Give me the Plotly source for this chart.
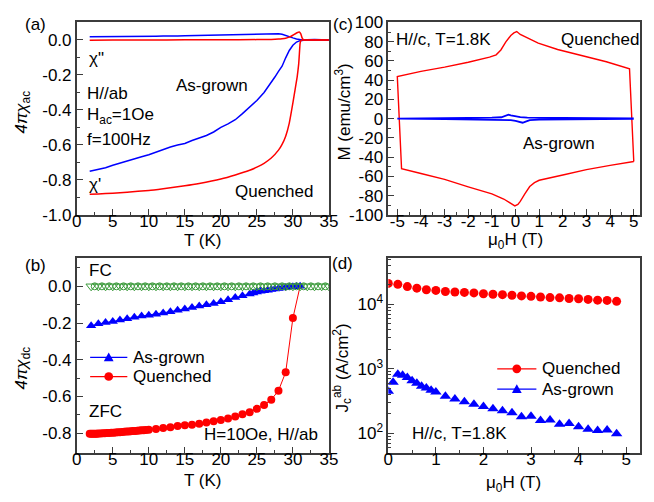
import plotly.graph_objects as go

# ---------------- Panel (a): ac susceptibility ----------------
T_ac_asgrown = [1.8, 3, 4, 5, 6, 7, 8, 9, 10, 11, 12, 13, 14, 15, 16, 17, 18, 19, 20, 21, 22, 23, 24, 25, 26,
                27, 27.5, 28, 28.5, 29, 29.5, 30, 30.5, 31, 31.5, 32, 33, 34, 35]
chi1_asgrown = [-0.750, -0.741, -0.730, -0.716, -0.705, -0.690, -0.680, -0.668, -0.656, -0.641, -0.630, -0.612,
                -0.601, -0.592, -0.575, -0.561, -0.546, -0.526, -0.500, -0.480, -0.456, -0.421, -0.386, -0.346,
                -0.300, -0.245, -0.212, -0.180, -0.150, -0.102, -0.060, -0.030, -0.012, -0.004, 0.000, 0.001,
                0.002, 0.000, 0.000]
chi2_asgrown = [0.018, 0.018, 0.019, 0.020, 0.019, 0.021, 0.020, 0.017, 0.020, 0.021, 0.022, 0.021, 0.023, 0.024,
                0.025, 0.026, 0.027, 0.028, 0.030, 0.029, 0.032, 0.030, 0.033, 0.034, 0.035, 0.037, 0.036,
                0.036, 0.033, 0.025, 0.018, 0.012, 0.006, 0.001, -0.002, 0.000, 0.002, 0.000, -0.001]

T_ac_quenched = [1.8, 3, 5, 7, 10, 12, 15, 17, 20, 22, 24, 25, 26, 27, 28, 28.5, 29, 29.5, 30, 30.3, 30.6,
                 30.8, 30.9, 31.0, 31.1, 31.3, 31.6, 32, 33, 34, 35]
chi1_quenched = [-0.882, -0.880, -0.876, -0.870, -0.860, -0.850, -0.833, -0.820, -0.795, -0.772, -0.745, -0.727,
                 -0.705, -0.675, -0.630, -0.597, -0.550, -0.475, -0.360, -0.285, -0.210, -0.140, -0.080, -0.020,
                 -0.004, 0.000, 0.000, 0.000, 0.000, 0.000, 0.000]
T_ac2_quenched = [1.8, 5, 10, 15, 20, 25, 27, 28, 28.5, 29, 29.5, 30, 30.5, 30.9, 31.1, 31.3, 31.5, 32, 33, 34, 35]
chi2_quenched = [-0.001, 0.000, 0.000, 0.001, 0.001, 0.002, 0.003, 0.005, 0.007, 0.010, 0.016, 0.027, 0.040,
                 0.046, 0.035, 0.010, 0.000, 0.000, 0.000, 0.000, 0.000]

# ---------------- Panel (c): M(H) loops ----------------
H_quenched = [5.0, 4.82, 3.84, 2.88, 1.78, 0.96, 0.5, 0.2, 0.05, -0.07, -0.2, -0.41, -0.62, -0.82, -1.1, -2.0,
              -3.0, -4.0, -5.0, -4.82, -4.0, -3.0, -2.0, -1.0, -0.5, -0.2, -0.03, 0.1, 0.2, 0.4, 0.6, 0.8, 1.0,
              2.0, 3.0, 4.0, 5.0]
M_quenched = [-44.5, 51.8, 59.2, 65.2, 71.9, 78.6, 83.5, 87.5, 90.6, 89.2, 86.5, 79.8, 71.4, 66.4, 64.0, 58.6,
              53.6, 49.2, 43.9, -52.0, -57.0, -63.0, -70.8, -78.2, -83.5, -87.5, -90.6, -89.0, -86.0, -78.0,
              -70.5, -66.5, -64.0, -58.5, -53.0, -48.5, -44.5]
H_asgrown = [5.0, 3.0, 2.0, 1.0, 0.5, 0.2, 0.0, -0.2, -0.3, -0.4, -0.6, -1.0, -2.0, -3.0, -5.0,
             -3.0, -2.0, -1.0, -0.5, -0.2, 0.0, 0.2, 0.3, 0.4, 0.6, 1.0, 2.0, 3.0, 5.0]
M_asgrown = [0.2, 0.4, 0.6, 0.9, 1.2, 1.6, 2.2, 3.5, 4.2, 3.2, 1.5, 1.0, 0.6, 0.4, 0.1,
             -0.4, -0.6, -0.9, -1.2, -1.6, -2.2, -3.8, -4.2, -3.3, -1.5, -1.0, -0.6, -0.4, -0.1]

# ---------------- Panel (b): dc susceptibility ----------------
T_fc_a = [2, 3, 4, 5, 6, 7, 8, 9, 10, 11, 12, 13, 14, 15, 16, 17, 18, 19, 20, 21, 22, 23, 24, 25, 26, 27, 28,
          29, 30, 31, 32, 33, 34, 35]
chi_fc_a = [0.000, 0.000, 0.000, 0.000, 0.000, 0.000, 0.000, 0.000, 0.000, 0.000, 0.000, 0.000, 0.000, 0.000,
            0.000, 0.000, 0.000, 0.000, 0.000, 0.000, 0.000, 0.000, 0.000, 0.000, 0.000, 0.000, 0.000, 0.000,
            0.000, 0.000, 0.000, 0.000, 0.000, 0.000]
T_fc_q = [2.5, 3.5, 4.5, 5.5, 6.5, 7.5, 8.5, 9.5, 10.5, 11.5, 12.5, 13.5, 14.5, 15.5, 16.5, 17.5, 18.5, 19.5,
          20.5, 21.5, 22.5, 23.5, 24.5, 25.5, 26.5, 27.5, 28.5, 29.5, 30.5, 31.5, 32.5, 33.5, 34.5]
chi_fc_q = [0.000, 0.000, 0.000, 0.000, 0.000, 0.000, 0.000, 0.000, 0.000, 0.000, 0.000, 0.000, 0.000, 0.000,
            0.000, 0.000, 0.000, 0.000, 0.000, 0.000, 0.000, 0.000, 0.000, 0.000, 0.000, 0.000, 0.000, 0.000,
            0.000, 0.000, 0.000, 0.000, 0.000]

T_zfc_asgrown = [2, 3, 4, 5, 6, 7, 8, 9, 10, 11, 12, 13, 14, 15, 16, 17, 18, 19, 20, 21, 22, 23, 24, 24.5, 25,
                 25.5, 26, 26.5, 27, 27.5, 28, 28.5, 29, 29.5, 30, 30.5, 31]
chi_zfc_asgrown = [-0.215, -0.204, -0.197, -0.192, -0.183, -0.176, -0.169, -0.162, -0.157, -0.152, -0.145,
                   -0.138, -0.131, -0.124, -0.115, -0.107, -0.101, -0.093, -0.084, -0.073, -0.061, -0.052,
                   -0.042, -0.036, -0.031, -0.027, -0.024, -0.021, -0.018, -0.015, -0.012, -0.009, -0.006,
                   -0.004, -0.002, -0.001, 0.000]

T_zfc_quenched = [1.8, 2.0, 2.2, 2.4, 2.6, 2.8, 3.0, 3.3, 3.6, 3.9, 4.2, 4.5, 4.8, 5.1, 5.4, 5.7, 6.0, 6.3, 6.6,
                  6.9, 7.2, 7.5, 7.8, 8.1, 8.4, 8.7, 9.0, 9.3, 9.6, 10.0, 11, 12, 13, 14, 15, 16, 17, 18, 19, 20,
                  21, 22, 23, 24, 25, 26, 27, 28, 29, 30, 31]
chi_zfc_quenched = [-0.803, -0.803, -0.803, -0.802, -0.802, -0.802, -0.801, -0.801, -0.800, -0.800, -0.799,
                    -0.798, -0.797, -0.797, -0.796, -0.795, -0.794, -0.793, -0.792, -0.791, -0.790, -0.789,
                    -0.788, -0.787, -0.786, -0.785, -0.784, -0.783, -0.782, -0.781, -0.777, -0.772, -0.767,
                    -0.760, -0.756, -0.753, -0.748, -0.742, -0.735, -0.728, -0.720, -0.709, -0.697, -0.685,
                    -0.667, -0.646, -0.617, -0.568, -0.468, -0.173, 0.000]

# ---------------- Panel (d): critical current density ----------------
H_jc = [0.0, 0.2, 0.4, 0.6, 0.8, 1.0, 1.2, 1.4, 1.6, 1.8, 2.0, 2.2, 2.4, 2.6, 2.8, 3.0, 3.2, 3.4, 3.6, 3.8, 4.0,
        4.2, 4.4, 4.6, 4.8]
Jc_quenched = [21100, 20400, 18800, 17800, 16800, 16400, 15800, 15500, 15300, 15000, 14600, 14300, 14100, 13800,
               13500, 13300, 13000, 12700, 12600, 12300, 12200, 11900, 11600, 11500, 11100]
H_jc_a = [0.0, 0.1, 0.2, 0.3, 0.4, 0.5, 0.6, 0.7, 0.8, 0.9, 1.0, 1.2, 1.4, 1.6, 1.8, 2.0, 2.2, 2.4, 2.6, 2.8, 3.0,
          3.2, 3.4, 3.6, 3.8, 4.0, 4.2, 4.4, 4.6, 4.8]
Jc_asgrown = [447, 617, 823, 794, 733, 653, 596, 537, 501, 462, 437, 376, 339, 309, 282, 260, 240, 224, 207, 180,
              184, 158, 160, 138, 141, 126, 115, 110, 112, 98]

# ---------------- tick labels ----------------
T_ticks = [0, 5, 10, 15, 20, 25, 30, 35]
T_ticktext = ["0", "5", "10", "15", "20", "25", "30", "35"]
chi_ac_ticks = [0.0, -0.2, -0.4, -0.6, -0.8, -1.0]
chi_ac_ticktext = ["0.0", "-0.2", "-0.4", "-0.6", "-0.8", "-1.0"]
chi_dc_ticks = [0.0, -0.2, -0.4, -0.6, -0.8]
chi_dc_ticktext = ["0.0", "-0.2", "-0.4", "-0.6", "-0.8"]
H_ticks = [-5, -4, -3, -2, -1, 0, 1, 2, 3, 4, 5]
H_ticktext = ["-5", "-4", "-3", "-2", "-1", "0", "1", "2", "3", "4", "5"]
M_ticks = [100, 80, 60, 40, 20, 0, -20, -40, -60, -80, -100]
M_ticktext = ["100", "80", "60", "40", "20", "0", "-20", "-40", "-60", "-80", "-100"]
Hd_ticks = [0, 1, 2, 3, 4, 5]
Hd_ticktext = ["0", "1", "2", "3", "4", "5"]
Jc_ticks = [100, 1000, 10000]
Jc_ticktext = ["10<sup>2</sup>", "10<sup>3</sup>", "10<sup>4</sup>"]

RED = "#ff0000"
BLUE = "#0000ff"
GREEN = "#3a9a3a"
FONT = "Liberation Sans, Arial, sans-serif"
AX = "#3c3c3c"

fig = go.Figure()

# (a)
fig.add_trace(go.Scatter(x=T_ac_asgrown, y=chi1_asgrown, mode="lines", line=dict(color=BLUE, width=1.5),
                         xaxis="x", yaxis="y", showlegend=False))
fig.add_trace(go.Scatter(x=T_ac_asgrown, y=chi2_asgrown, mode="lines", line=dict(color=BLUE, width=1.5),
                         xaxis="x", yaxis="y", showlegend=False))
fig.add_trace(go.Scatter(x=T_ac_quenched, y=chi1_quenched, mode="lines",
                         line=dict(color=RED, width=1.5, shape="spline", smoothing=0.4),
                         xaxis="x", yaxis="y", showlegend=False))
fig.add_trace(go.Scatter(x=T_ac2_quenched, y=chi2_quenched, mode="lines",
                         line=dict(color=RED, width=1.5, shape="spline", smoothing=0.4),
                         xaxis="x", yaxis="y", showlegend=False))

# (c)
fig.add_trace(go.Scatter(x=H_quenched, y=M_quenched, mode="lines", line=dict(color=RED, width=1.4),
                         xaxis="x2", yaxis="y2", showlegend=False))
fig.add_trace(go.Scatter(x=H_asgrown, y=M_asgrown, mode="lines", line=dict(color=BLUE, width=1.8),
                         xaxis="x2", yaxis="y2", showlegend=False))

# (b)
fig.add_trace(go.Scatter(x=T_zfc_asgrown, y=chi_zfc_asgrown, mode="lines+markers", name="As-grown",
                         line=dict(color=BLUE, width=1),
                         marker=dict(symbol="triangle-up", size=9, color=BLUE, opacity=1, line=dict(width=0)),
                         xaxis="x3", yaxis="y3", showlegend=False))
q_sizes = [8] * (len(T_zfc_quenched) - 1) + [0]
fig.add_trace(go.Scatter(x=T_zfc_quenched, y=chi_zfc_quenched, mode="lines+markers", name="Quenched",
                         line=dict(color=RED, width=1),
                         marker=dict(symbol="circle", size=q_sizes, color=RED, opacity=1, line=dict(width=0)),
                         xaxis="x3", yaxis="y3", showlegend=False))
fig.add_trace(go.Scatter(x=T_fc_a, y=chi_fc_a, mode="markers",
                         marker=dict(symbol="triangle-down-open", size=9, color=GREEN, line=dict(width=1)),
                         xaxis="x3", yaxis="y3", showlegend=False))
fig.add_trace(go.Scatter(x=T_fc_q, y=chi_fc_q, mode="markers",
                         marker=dict(symbol="circle-open", size=7, color=GREEN, line=dict(width=1)),
                         xaxis="x3", yaxis="y3", showlegend=False))

# (d)
fig.add_trace(go.Scatter(x=H_jc, y=Jc_quenched, mode="markers", name="Quenched",
                         marker=dict(symbol="circle", size=9, color=RED, opacity=1, line=dict(width=0)),
                         xaxis="x4", yaxis="y4", showlegend=False))
fig.add_trace(go.Scatter(x=H_jc_a, y=Jc_asgrown, mode="markers", name="As-grown",
                         marker=dict(symbol="triangle-up", size=10, color=BLUE, opacity=1, line=dict(width=0)),
                         xaxis="x4", yaxis="y4", showlegend=False))

W, Hh = 654, 502


def px(x):
    return x / W


def py(y):
    return 1 - y / Hh


def axis(domain, rng, tickvals, ticktext, minor_dtick, anchor, **kw):
    d = dict(domain=domain, range=rng, tickmode="array", tickvals=tickvals, ticktext=ticktext, anchor=anchor,
             showline=True, linecolor=AX, linewidth=1.6, mirror=True, ticks="inside", ticklen=6, tickwidth=1.3,
             tickcolor=AX, showgrid=False, zeroline=False,
             tickfont=dict(size=17, color="black", family=FONT),
             minor=dict(ticks="inside", ticklen=3, tickwidth=1.2, tickcolor=AX, tick0=0, dtick=minor_dtick,
                        showgrid=False))
    d.update(kw)
    return d


xa = [px(73.3), px(331)]
xc = [px(391.7), px(649.3)]
ytop = [py(214), py(14)]
ybot = [py(461), py(259)]
XSTAND = -10

fig.update_layout(
    width=W, height=Hh, margin=dict(l=0, r=0, t=0, b=0),
    paper_bgcolor="white", plot_bgcolor="white",
    font=dict(family=FONT, size=17, color="black"),
    showlegend=False,
    xaxis=axis(xa, [0, 35], T_ticks, T_ticktext, 2.5, "y", ticklabelstandoff=XSTAND),
    yaxis=axis(ytop, [-1.0, 0.1], chi_ac_ticks, chi_ac_ticktext, 0.1, "x"),
    xaxis2=axis(xc, [-5.38, 5.28], H_ticks, H_ticktext, 0.5, "y2", ticklabelstandoff=XSTAND),
    yaxis2=axis(ytop, [-100, 100], M_ticks, M_ticktext, 10, "x2"),
    xaxis3=axis(xa, [0, 35], T_ticks, T_ticktext, 2.5, "y3", ticklabelstandoff=XSTAND),
    yaxis3=axis(ybot, [-0.905, 0.153], chi_dc_ticks, chi_dc_ticktext, 0.1, "x3"),
    xaxis4=axis(xc, [0, 5.3], Hd_ticks, Hd_ticktext, 0.5, "y4", ticklabelstandoff=XSTAND),
    yaxis4=dict(domain=ybot, type="log", range=[1.7, 4.715], anchor="x4", showline=True, linecolor=AX,
                linewidth=1.6, mirror=True, ticks="inside", ticklen=6, tickwidth=1.3, tickcolor=AX,
                showgrid=False, zeroline=False, tickfont=dict(size=17, color="black", family=FONT),
                tickmode="array", tickvals=Jc_ticks, ticktext=Jc_ticktext,
                minor=dict(ticks="inside", ticklen=3, tickwidth=1.2, tickcolor=AX, tickmode="array",
                           tickvals=[m * 10 ** e for e in (1, 2, 3, 4) for m in range(2, 10)
                                     if 50 <= m * 10 ** e <= 52000])),
)

ann = []


def text(t, x, y, xanchor="left", angle=0, size=17):
    ann.append(dict(text=t, x=px(x), y=py(y), xref="paper", yref="paper", xanchor=xanchor, yanchor="middle",
                    showarrow=False, textangle=angle, font=dict(size=size, family=FONT, color="black")))


shapes = []


def legend_entry(x0, x1, y, color, symbol, label):
    shapes.append(dict(type="line", xref="paper", yref="paper", x0=px(x0), x1=px(x1), y0=py(y), y1=py(y),
                       line=dict(color=color, width=1.2)))
    cx = (x0 + x1) / 2
    if symbol == "circle":
        r = 4.5
        shapes.append(dict(type="circle", xref="paper", yref="paper", x0=px(cx - r), x1=px(cx + r),
                           y0=py(y + r), y1=py(y - r), fillcolor=color, line=dict(width=0)))
    else:
        path = "M {:.5f},{:.5f} L {:.5f},{:.5f} L {:.5f},{:.5f} Z".format(
            px(cx - 5), py(y + 4), px(cx + 5), py(y + 4), px(cx), py(y - 5))
        shapes.append(dict(type="path", xref="paper", yref="paper", path=path, fillcolor=color,
                           line=dict(width=0)))
    text(label, x1 + 4, y)


# panel a
text("(a)", 31, 16, "center")
text("χ\"", 84, 51)
text("H//ab", 82, 88)
text("H<sub>ac</sub>=1Oe", 82, 111)
text("f=100Hz", 82, 136)
text("χ'", 84, 182)
text("As-grown", 173, 79)
text("Quenched", 233, 190)
text("<i>4πχ</i><sub>ac</sub>", 18, 107, "center", -90)
text("T (K)", 202, 241, "center")
# panel c
text("(c)", 345, 16, "center")
text("H//c, T=1.8K", 398, 32)
text("Quenched", 566, 32)
text("As-grown", 527, 140)
text("M (emu/cm<sup>3</sup>)", 345, 107, "center", -90)
text("μ<sub>0</sub>H (T)", 522, 241, "center")
# panel b
text("(b)", 31, 267, "center")
text("FC", 84, 272)
text("ZFC", 84, 418)
text("H=10Oe, H//ab", 322, 442, "right")
text("<i>4πχ</i><sub>dc</sub>", 18, 373, "center", -90)
text("T (K)", 202, 490, "center")
legend_entry(87, 125, 362, BLUE, "triangle", "As-grown")
legend_entry(87, 125, 382, RED, "circle", "Quenched")
# panel d
text("(d)", 345, 265, "center")
text("H//c, T=1.8K", 414, 441)
text("J<sub>c</sub><sup>ab</sup> (A/cm<sup>2</sup>)", 345, 373, "center", -90)
text("μ<sub>0</sub>H (T)", 520, 494, "center")
legend_entry(503, 543, 374, RED, "circle", "Quenched")
legend_entry(503, 543, 395, BLUE, "triangle", "As-grown")

fig.update_layout(annotations=ann, shapes=shapes)
fig.write_html("out.html", config={"displayModeBar": False},
               post_script="document.body.style.margin='0';document.body.style.overflow='hidden';")
